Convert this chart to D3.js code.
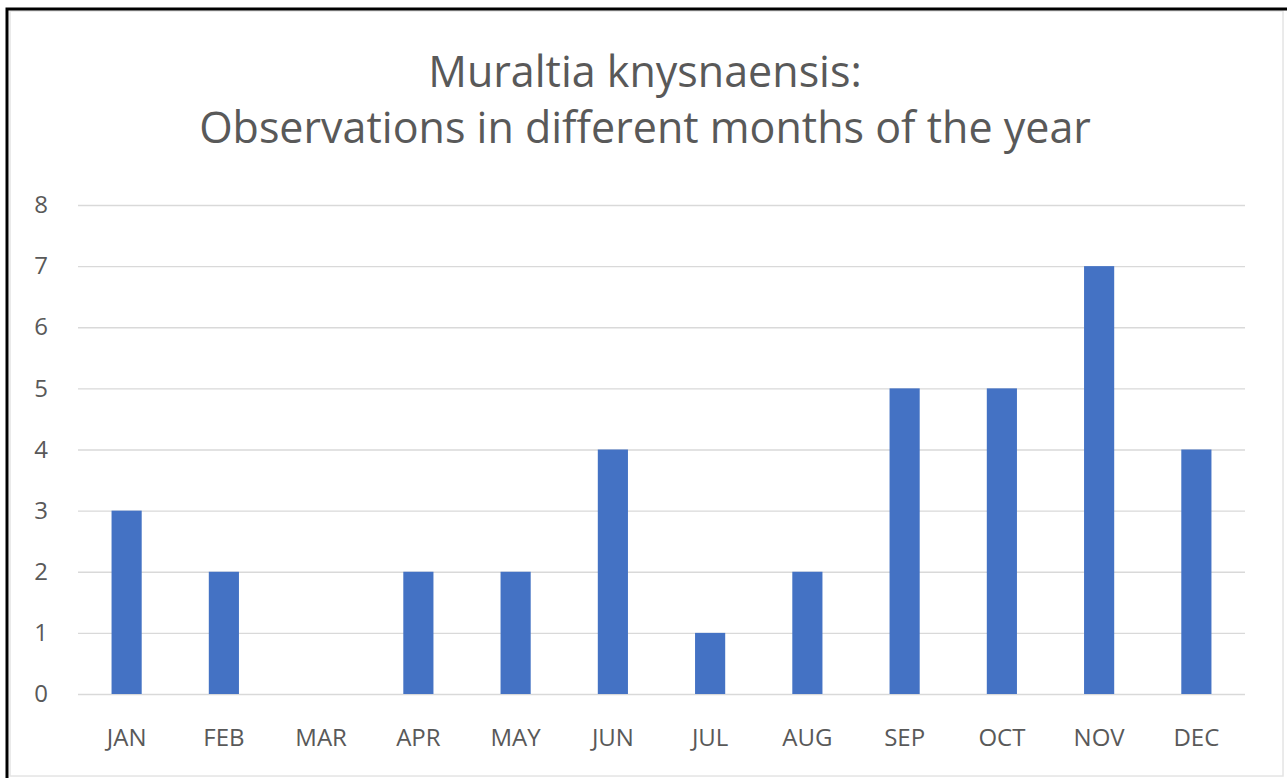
<!DOCTYPE html>
<html>
<head>
<meta charset="utf-8">
<script src="https://cdn.jsdelivr.net/npm/d3@7"></script>
<style>
  body { margin: 0; background: #fff; }
  svg { display: block; font-family: "Open Sans", "Noto Sans", sans-serif; }
  .grid line { stroke: #d9d9d9; stroke-width: 1.3; }
  .grid path { display: none; }
  .axis text { fill: #595959; font-size: 24px; font-family: "Open Sans", "Noto Sans", sans-serif; }
  .axis path, .axis line { display: none; }
</style>
</head>
<body>
<plot></plot>
<script>
// data
var months = ["JAN","FEB","MAR","APR","MAY","JUN","JUL","AUG","SEP","OCT","NOV","DEC"];
var observations = [3,2,0,2,2,4,1,2,5,5,7,4];
var yTicks = [0,1,2,3,4,5,6,7,8];
var titleLines = ["Muraltia knysnaensis:", "Observations in different months of the year"];

function plot_bars(){
    var width = 1287,
        height = 778,
        margin = {left:78,top:205,right:42,bottom:84},
        g_width = width-margin.left-margin.right,
        g_height = height-margin.top-margin.bottom;

    var svg = d3.select("plot")
        .append("svg")
        .attr("width", width)
        .attr("height", height);

    // frame
    svg.append("rect")
        .attr("x", 10).attr("y", 11)
        .attr("width", 1273).attr("height", 765)
        .attr("fill", "none")
        .attr("stroke", "#e4e4e4")
        .attr("stroke-width", 1.5);
    svg.append("path")
        .attr("d", "M7,778 V9 H1287")
        .attr("fill", "none")
        .attr("stroke", "#000")
        .attr("stroke-width", 3);

    var xScale = d3.scaleBand()
        .domain(months)
        .range([margin.left, margin.left+g_width])
        .paddingInner(0.69)
        .paddingOuter(0.345);

    var yScale = d3.scaleLinear()
        .domain([0,8])
        .range([margin.top+g_height, margin.top]);

    // grid
    var grid = d3.axisLeft()
        .scale(yScale)
        .tickValues(yTicks)
        .tickSizeInner(-g_width)
        .tickSizeOuter(0)
        .tickFormat("");

    svg.append("g")
        .attr("class","grid")
        .attr("transform",`translate(${margin.left},0)`)
        .call(grid);

    // bars
    svg.append("g")
        .selectAll("rect")
        .data(observations)
        .join("rect")
        .attr("x", function(d,i){ return xScale(months[i]); })
        .attr("width", xScale.bandwidth())
        .attr("y", function(d){ return yScale(d); })
        .attr("height", function(d){ return yScale(0)-yScale(d); })
        .attr("fill", "#4472c4");

    // axes
    var yAxis = d3.axisLeft()
        .scale(yScale)
        .tickValues(yTicks)
        .tickSize(0)
        .tickPadding(30);

    svg.append("g")
        .attr("class","axis")
        .attr("transform",`translate(${margin.left},0)`)
        .call(yAxis);

    var xAxis = d3.axisBottom()
        .scale(xScale)
        .tickSize(0)
        .tickPadding(35);

    svg.append("g")
        .attr("class","axis")
        .attr("transform",`translate(0,${margin.top+g_height})`)
        .call(xAxis);

    // title
    svg.append("g")
        .selectAll("text")
        .data(titleLines)
        .join("text")
        .attr("x", 645)
        .attr("y", function(d,i){ return 87 + i*56; })
        .attr("text-anchor", "middle")
        .attr("fill", "#595959")
        .attr("font-size", "43px")
        .text(function(d){ return d; });
}

plot_bars();
</script>
</body>
</html>
